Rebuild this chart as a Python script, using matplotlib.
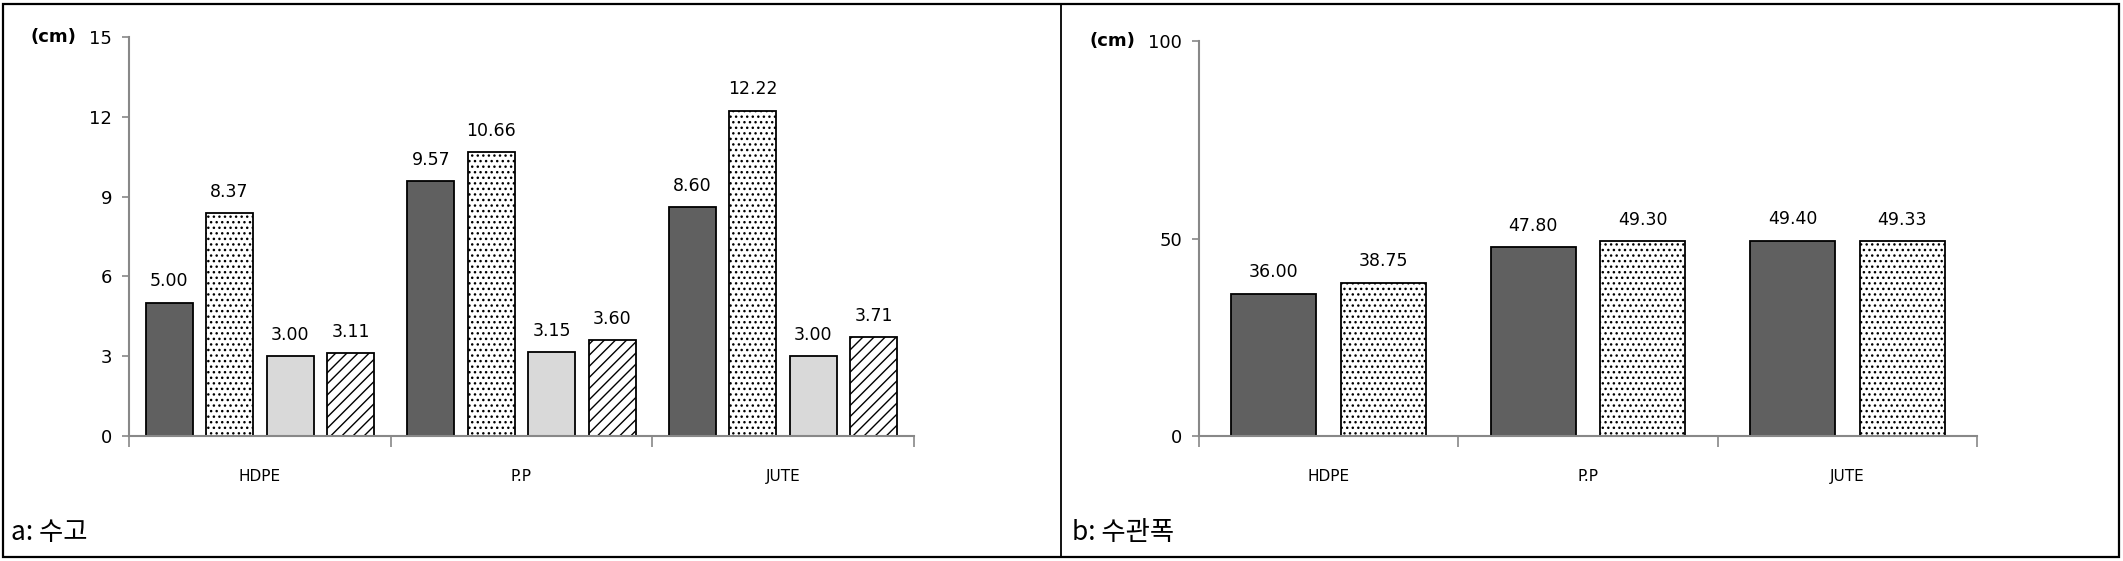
import numpy as np
import matplotlib
matplotlib.use("Agg")
import matplotlib.pyplot as plt
from matplotlib.patches import Rectangle
from matplotlib.lines import Line2D

plt.rcParams['font.family'] = ['DejaVu Sans', 'Noto Sans CJK KR']
plt.rcParams['hatch.linewidth'] = 1.0

categories = ['HDPE', 'P.P', 'JUTE']

# a: 수고 (height)
a_s1 = [5.00, 9.57, 8.60]
a_s2 = [8.37, 10.66, 12.22]
a_s3 = [3.00, 3.15, 3.00]
a_s4 = [3.11, 3.60, 3.71]
a_ticks = [0, 3, 6, 9, 12, 15]

# b: 수관폭 (crown width)
b_s1 = [36.00, 47.80, 49.40]
b_s2 = [38.75, 49.30, 49.33]
b_ticks = [0, 50, 100]

styles = [
    dict(color='#606060', hatch=None),
    dict(color='white', hatch='...'),
    dict(color='#d9d9d9', hatch=None),
    dict(color='white', hatch='///'),
]

W, H = 2123, 561
fig = plt.figure(figsize=(W / 100, H / 100), dpi=100)


def panel(rect, series, ticks, width, step, label_x):
    ax = fig.add_axes(rect)
    n = len(series)
    centers = np.arange(len(categories)) + 0.5
    for i, vals in enumerate(series):
        off = (i - (n - 1) / 2) * step
        st = styles[i]
        bars = ax.bar(centers + off, vals, width, color=st['color'], hatch=st['hatch'],
                      edgecolor='black', linewidth=1.3, zorder=2)
        for b, v in zip(bars, vals):
            ax.annotate(f'{v:.2f}', (b.get_x() + b.get_width() / 2, v), xytext=(0, 9),
                        textcoords='offset points', ha='center', va='bottom', fontsize=12.5)
    ax.set_xlim(0, len(categories))
    ax.set_ylim(ticks[0], ticks[-1])
    ax.set_yticks(ticks)
    ax.set_xticks(np.arange(len(categories) + 1))
    ax.set_xticklabels([])
    ax.set_xticks(centers, minor=True)
    ax.set_xticklabels(categories, minor=True, fontsize=11,
                       family=['Liberation Sans Narrow', 'DejaVu Sans'])
    ax.tick_params(axis='x', which='major', length=8, width=1.2, color='#888888', direction='out')
    ax.tick_params(axis='x', which='minor', length=0, pad=24)
    ax.tick_params(axis='y', length=5, width=1.2, color='#888888', labelsize=13, pad=7)
    for s in ['top', 'right']:
        ax.spines[s].set_visible(False)
    for s in ['left', 'bottom']:
        ax.spines[s].set_color('#888888')
        ax.spines[s].set_linewidth(1.5)
    top = rect[1] + rect[3]
    fig.text(label_x, top, '(cm)', ha='right', va='center', fontsize=13, fontweight='bold')
    return ax


panel([129 / W, 125 / H, 785 / W, 399 / H], [a_s1, a_s2, a_s3, a_s4], a_ticks,
      0.18, 0.231, 76 / W)
panel([1199 / W, 125 / H, 778 / W, 395 / H], [b_s1, b_s2], b_ticks,
      0.328, 0.423, 1135 / W)

kr = ['Noto Sans CJK KR', 'DejaVu Sans']
fig.text(11 / W, 1 - 532 / H, 'a: 수고', ha='left', va='center', fontsize=19, family=kr)
fig.text(1072 / W, 1 - 532 / H, 'b: 수관폭', ha='left', va='center', fontsize=19, family=kr)

# panel frames
fig.add_artist(Rectangle((3 / W, 4 / H), 2116 / W, 553 / H, transform=fig.transFigure,
                         fill=False, edgecolor='black', linewidth=1.6))
fig.add_artist(Line2D([1061 / W, 1061 / W], [4 / H, 557 / H], transform=fig.transFigure,
                      color='black', linewidth=1.3))

fig.savefig('out.png', dpi=100)
